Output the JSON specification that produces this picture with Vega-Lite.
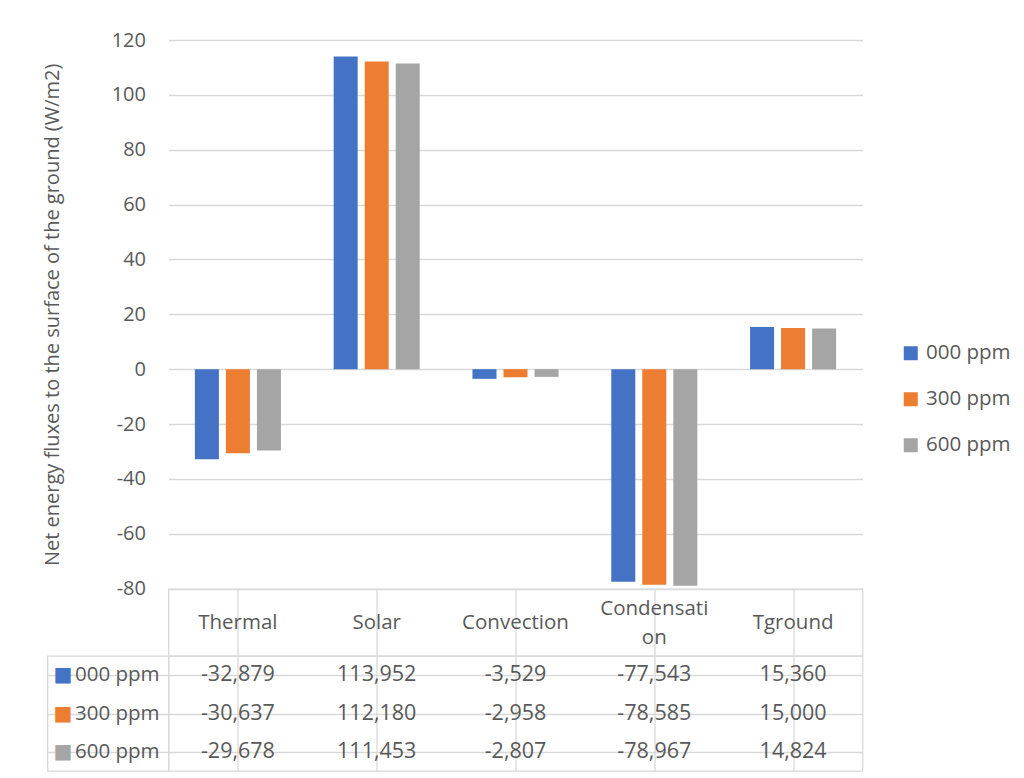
{
  "$schema": "https://vega.github.io/schema/vega-lite/v6.json",
  "background": "white",
  "padding": {"left": 41.5, "top": 30, "right": 10, "bottom": 5},
  "config": {
    "font": "Open Sans",
    "locale": {
      "number": {"decimal": ",", "thousands": ".", "grouping": [3], "currency": ["", " €"], "minus": "-"}
    },
    "view": {"stroke": null},
    "axis": {
      "labelFont": "Open Sans",
      "labelColor": "#595959",
      "titleColor": "#595959",
      "titleFont": "Open Sans",
      "gridColor": "#D9D9D9",
      "gridWidth": 1.3,
      "domain": false,
      "ticks": false
    },
    "text": {"font": "Open Sans", "color": "#595959"}
  },
  "data": {
    "values": [
      {"cat": "Thermal", "series": "000 ppm", "value": -32.879},
      {"cat": "Thermal", "series": "300 ppm", "value": -30.637},
      {"cat": "Thermal", "series": "600 ppm", "value": -29.678},
      {"cat": "Solar", "series": "000 ppm", "value": 113.952},
      {"cat": "Solar", "series": "300 ppm", "value": 112.18},
      {"cat": "Solar", "series": "600 ppm", "value": 111.453},
      {"cat": "Convection", "series": "000 ppm", "value": -3.529},
      {"cat": "Convection", "series": "300 ppm", "value": -2.958},
      {"cat": "Convection", "series": "600 ppm", "value": -2.807},
      {"cat": "Condensation", "series": "000 ppm", "value": -77.543},
      {"cat": "Condensation", "series": "300 ppm", "value": -78.585},
      {"cat": "Condensation", "series": "600 ppm", "value": -78.967},
      {"cat": "Tground", "series": "000 ppm", "value": 15.36},
      {"cat": "Tground", "series": "300 ppm", "value": 15.0},
      {"cat": "Tground", "series": "600 ppm", "value": 14.824}
    ]
  },
  "columns": 2,
  "spacing": 0,
  "bounds": "flush",
  "concat": [
    {
      "width": 121,
      "height": 548.6,
      "data": {"values": []},
      "mark": "text",
      "encoding": {}
    },
    {
      "width": 694,
      "height": 548.6,
      "mark": {"type": "bar"},
      "encoding": {
        "x": {
          "field": "cat",
          "type": "nominal",
          "scale": {
            "domain": ["Thermal", "Solar", "Convection", "Condensation", "Tground"],
            "paddingInner": 0.38,
            "paddingOuter": 0.19
          },
          "axis": null
        },
        "xOffset": {
          "field": "series",
          "type": "nominal",
          "scale": {"domain": ["000 ppm", "300 ppm", "600 ppm"], "paddingInner": 0.226}
        },
        "y": {
          "field": "value",
          "type": "quantitative",
          "scale": {"domain": [-80, 120], "nice": false, "zero": false},
          "axis": {
            "values": [-80, -60, -40, -20, 0, 20, 40, 60, 80, 100, 120],
            "title": "Net energy fluxes to the surface of the ground (W/m2)",
            "grid": true,
            "labelPadding": 23,
            "labelFontSize": 20,
            "titleFontSize": 20,
            "titleFontWeight": "normal",
            "titlePadding": 49
          }
        },
        "color": {
          "field": "series",
          "type": "nominal",
          "scale": {
            "domain": ["000 ppm", "300 ppm", "600 ppm"],
            "range": ["#4472C4", "#ED7D31", "#A5A5A5"]
          },
          "legend": {
            "orient": "none",
            "legendX": 853,
            "legendY": 303,
            "title": null,
            "symbolType": "square",
            "symbolSize": 196,
            "symbolStrokeWidth": 0,
            "labelFontSize": 20.5,
            "labelColor": "#595959",
            "labelFont": "Open Sans",
            "rowPadding": 25,
            "labelOffset": 5
          }
        }
      }
    },
    {
      "width": 121,
      "height": 67,
      "data": {"values": []},
      "mark": "text",
      "encoding": {}
    },
    {
      "width": 694,
      "height": 67,
      "view": {"stroke": "#D9D9D9", "strokeWidth": 1.3},
      "transform": [{"filter": "datum.series === '000 ppm'"}],
      "encoding": {
        "x": {
          "field": "cat",
          "type": "nominal",
          "scale": {
            "domain": ["Thermal", "Solar", "Convection", "Condensation", "Tground"],
            "paddingInner": 0,
            "paddingOuter": 0
          },
          "axis": {"grid": true, "bandPosition": 0, "labels": false, "title": null}
        }
      },
      "layer": [
        {
          "transform": [{"filter": "length(datum.cat) <= 10"}],
          "mark": {"type": "text", "fontSize": 20.5},
          "encoding": {"text": {"field": "cat"}}
        },
        {
          "transform": [
            {"filter": "length(datum.cat) > 10"},
            {"calculate": "[substring(datum.cat, 0, 10), substring(datum.cat, 10)]", "as": "label"}
          ],
          "mark": {"type": "text", "fontSize": 20.5, "lineHeight": 29, "dy": -14},
          "encoding": {"text": {"field": "label"}}
        }
      ]
    },
    {
      "width": 121,
      "height": 115,
      "view": {"stroke": "#D9D9D9", "strokeWidth": 1.3},
      "transform": [{"filter": "datum.cat === 'Thermal'"}],
      "encoding": {
        "y": {
          "field": "series",
          "type": "nominal",
          "scale": {"domain": ["000 ppm", "300 ppm", "600 ppm"], "paddingInner": 0, "paddingOuter": 0},
          "axis": {"grid": true, "bandPosition": 0, "labels": false, "title": null}
        }
      },
      "layer": [
        {
          "mark": {"type": "text", "text": "■", "font": "DejaVu Sans", "fontSize": 20, "align": "center", "dx": -45},
          "encoding": {
            "color": {"field": "series", "type": "nominal"}
          }
        },
        {
          "mark": {"type": "text", "align": "left", "dx": -33, "fontSize": 20.5},
          "encoding": {"text": {"field": "series"}}
        }
      ]
    },
    {
      "width": 694,
      "height": 115,
      "view": {"stroke": "#D9D9D9", "strokeWidth": 1.3},
      "mark": {"type": "text", "fontSize": 21.5},
      "encoding": {
        "x": {
          "field": "cat",
          "type": "nominal",
          "scale": {
            "domain": ["Thermal", "Solar", "Convection", "Condensation", "Tground"],
            "paddingInner": 0,
            "paddingOuter": 0
          },
          "axis": {"grid": true, "bandPosition": 0, "labels": false, "title": null}
        },
        "y": {
          "field": "series",
          "type": "nominal",
          "scale": {"domain": ["000 ppm", "300 ppm", "600 ppm"], "paddingInner": 0, "paddingOuter": 0},
          "axis": {"grid": true, "bandPosition": 0, "labels": false, "title": null}
        },
        "text": {"field": "value", "type": "quantitative", "format": ".3f"}
      }
    }
  ]
}
